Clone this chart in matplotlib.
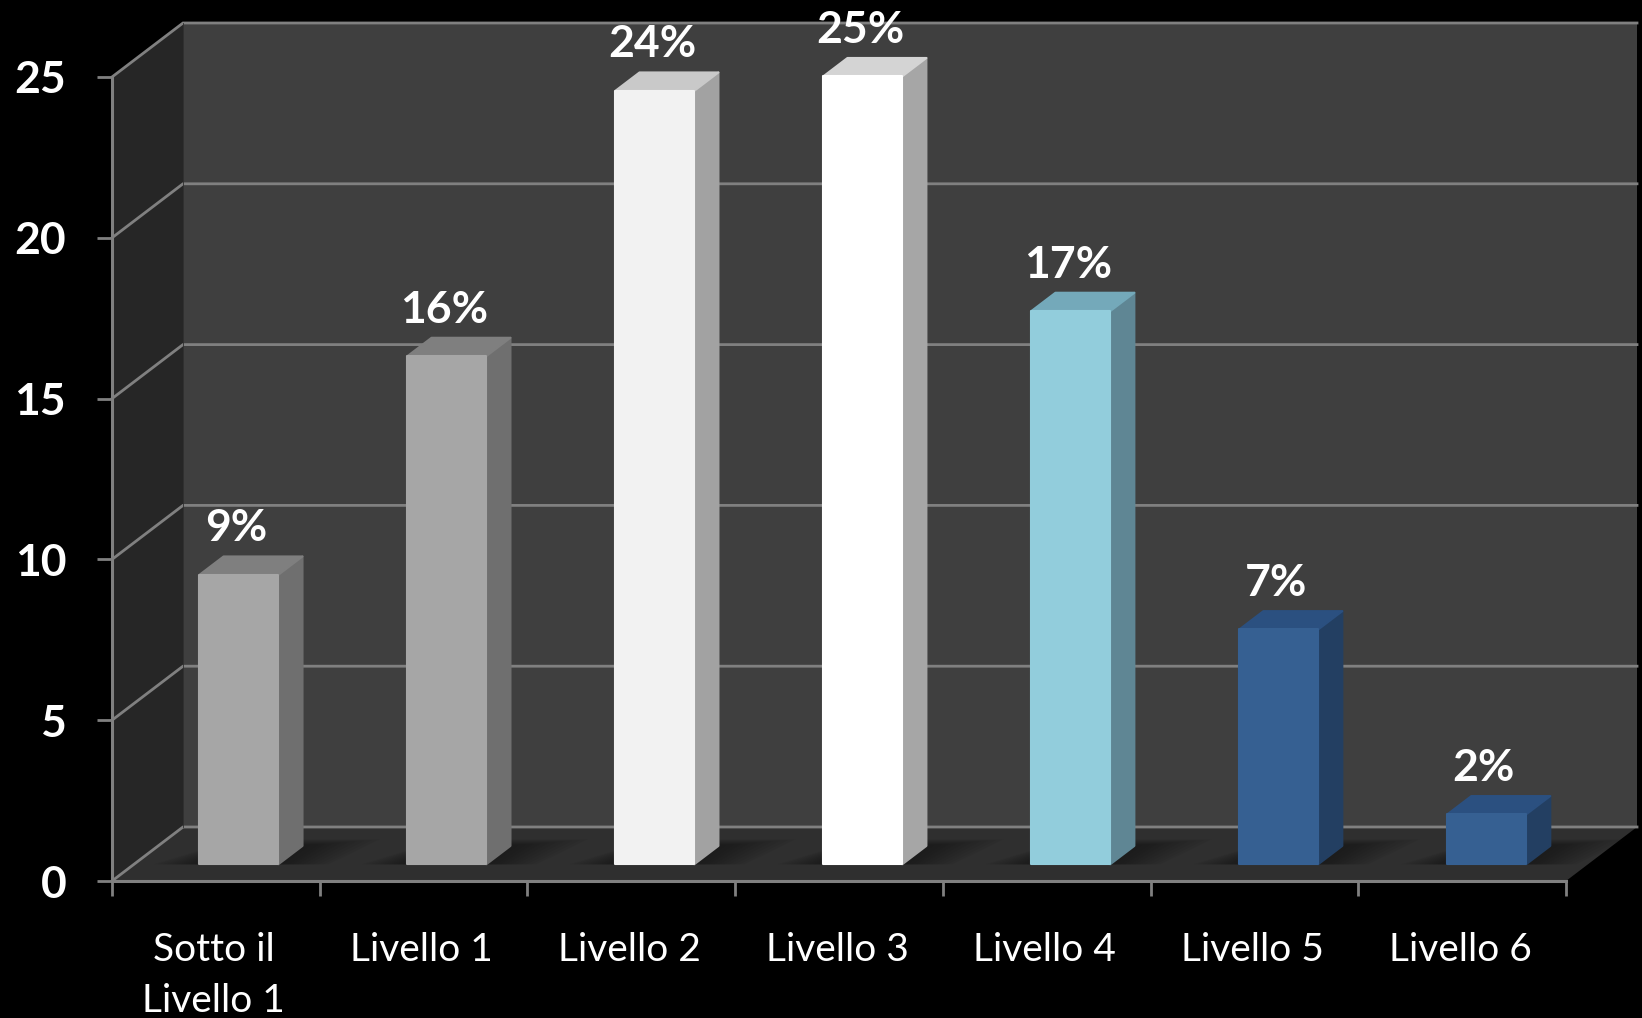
import matplotlib
matplotlib.use("Agg")
import matplotlib.pyplot as plt
from matplotlib.patches import Polygon

categories = ["Sotto il\nLivello 1", "Livello 1", "Livello 2", "Livello 3", "Livello 4", "Livello 5", "Livello 6"]
values = [9.0, 15.8, 24.05, 24.5, 17.2, 7.3, 1.55]
value_labels = ["9%", "16%", "24%", "25%", "17%", "7%", "2%"]
y_ticks = [0, 5, 10, 15, 20, 25]

front_colors = ["#a6a6a6", "#a6a6a6", "#f2f2f2", "#ffffff", "#92cddc", "#366092", "#366092"]
side_colors = ["#6f6f6f", "#6f6f6f", "#a2a2a2", "#a6a6a6", "#5f8694", "#233f62", "#233f62"]
top_colors = ["#7f7f7f", "#7f7f7f", "#c9c9c9", "#d4d4d4", "#74a9ba", "#2b5080", "#2b5080"]

W, H = 1642, 1018
L, R, T, B = 112, 1566, 77, 881
plt.rcParams["font.family"] = ["Lato", "DejaVu Sans"]

fig = plt.figure(figsize=(W / 100, H / 100), dpi=100, facecolor="black")
ax = fig.add_axes([L / W, 1 - B / H, (R - L) / W, (B - T) / H])
ax.set_xlim(0, len(categories))
ax.set_ylim(0, 25)
ax.set_facecolor("none")

px_x = len(categories) / (R - L)
px_y = 25 / (B - T)
DX, DY = 71 * px_x, 54 * px_y
GRID = "#808080"


def P(x, y, d=0.0):
    return (x + d * DX, y + d * DY)


def poly(pts, color, z, **kw):
    ax.add_patch(Polygon(pts, closed=True, facecolor=color, edgecolor=kw.pop("edge", "none"),
                         clip_on=False, zorder=z, **kw))


n = len(categories)
top = y_ticks[-1]
# walls and floor
poly([P(0, 0, 1), P(n, 0, 1), P(n, top, 1), P(0, top, 1)], "#3f3f3f", 1)
poly([P(0, 0, 0), P(0, 0, 1), P(0, top, 1), P(0, top, 0)], "#262626", 1)
poly([P(0, 0, 0), P(n, 0, 0), P(n, 0, 1), P(0, 0, 1)], "#2f2f2f", 1)

# gridlines on side and back walls
for v in y_ticks:
    xs, ys = zip(P(0, v, 0), P(0, v, 1), P(n, v, 1))
    ax.plot(xs, ys, color=GRID, lw=2, clip_on=False, zorder=2, solid_joinstyle="miter")
xs, ys = zip(P(0, 0, 1), P(0, top, 1))
ax.plot(xs, ys, color="#2e2e2e", lw=0.6, clip_on=False, zorder=2)

D0, D1 = 0.31, 0.65
BAR_W = 0.38

for i, v in enumerate(values):
    cx = i + 0.505 + i * 0.0012
    x0 = cx - BAR_W / 2
    x1 = cx + BAR_W / 2
    # soft floor shadow
    for k in range(10):
        f = k / 10
        grow = (1 - f) * 0.22
        poly([P(x0 - grow, 0, D0), P(x1 + grow * 1.1, 0, D0),
              P(x1 + grow * 1.5, 0, min(D1 + 0.12 * (1 - f), 0.98)),
              P(x0 + 0.02, 0, min(D1 + 0.12 * (1 - f), 0.98))],
             "#111111", 3, alpha=0.07)
    # bar faces
    poly([P(x1, 0, D0), P(x1, 0, D1), P(x1, v, D1), P(x1, v, D0)], side_colors[i], 4 + i,
         edge=side_colors[i], lw=1.5, joinstyle="round")
    poly([P(x0, v, D0), P(x1, v, D0), P(x1, v, D1), P(x0, v, D1)], top_colors[i], 4 + i,
         edge=top_colors[i], lw=1.5, joinstyle="round")
    poly([P(x0, 0, D0), P(x1, 0, D0), P(x1, v, D0), P(x0, v, D0)], front_colors[i], 4.5 + i,
         edge=front_colors[i], lw=1.5, joinstyle="round")
    # value label above the bar
    lx, ly = P(cx, v, D1)
    ax.annotate(value_labels[i], xy=(lx, ly), xytext=(-27 * 0.72, 28 * 0.72),
                textcoords="offset points", ha="center", va="center",
                color="white", fontsize=32, fontweight="bold", zorder=30, annotation_clip=False)

# axes
for s in ("top", "right"):
    ax.spines[s].set_visible(False)
for s in ("left", "bottom"):
    ax.spines[s].set_color(GRID)
    ax.spines[s].set_linewidth(2.2)
    ax.spines[s].set_zorder(20)
ax.set_yticks(y_ticks)
ax.set_yticklabels([str(t) for t in y_ticks])
ax.tick_params(axis="y", length=11, width=2, color=GRID, labelcolor="white", pad=22, labelsize=32)
for t in ax.get_yticklabels():
    t.set_fontweight("bold")
ax.set_xticks(range(n + 1))
ax.set_xticklabels([])
ax.tick_params(axis="x", which="major", length=11, width=2, color=GRID)
ax.set_xticks([i + 0.5 - 2 * px_x for i in range(n)], minor=True)
ax.set_xticklabels(categories, minor=True)
ax.tick_params(axis="x", which="minor", length=0, labelcolor="white", pad=37, labelsize=28)
for t in ax.get_xticklabels(minor=True):
    t.set_linespacing(1.5)

fig.savefig("out.png", dpi=100, facecolor="black")
